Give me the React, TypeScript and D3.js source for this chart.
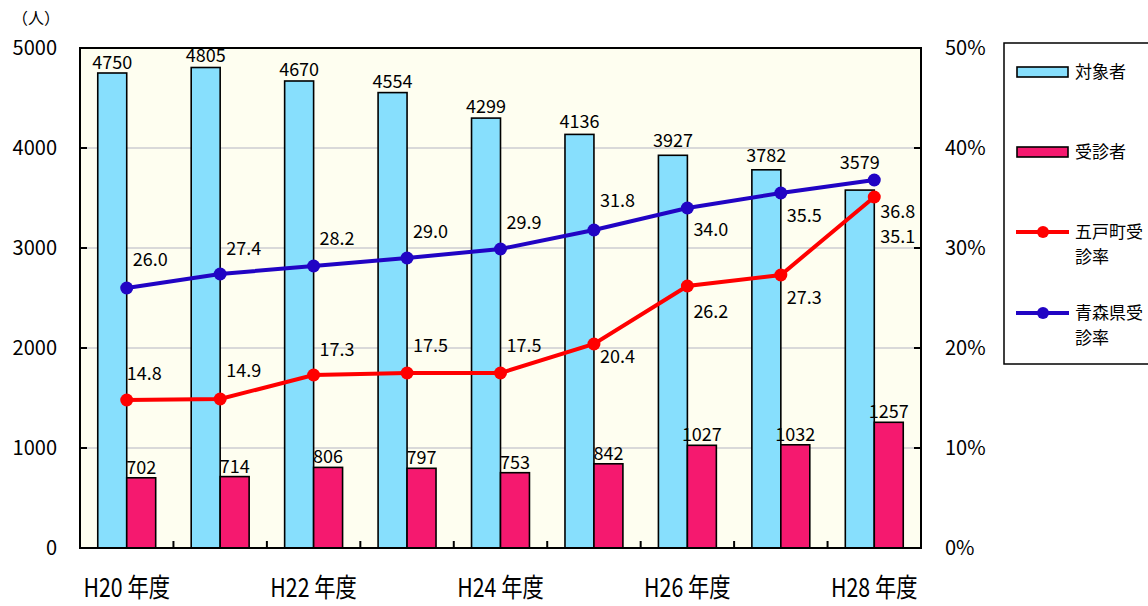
import React from 'react';
import * as d3 from 'd3';

// fiscal years (only every other one is labelled on the axis)
const years = ['H20', 'H21', 'H22', 'H23', 'H24', 'H25', 'H26', 'H27', 'H28'];
const shownYears = ['H20', 'H22', 'H24', 'H26', 'H28'];

// 対象者 / 受診者 (people)
const targets = [4750, 4805, 4670, 4554, 4299, 4136, 3927, 3782, 3579];
const examinees = [702, 714, 806, 797, 753, 842, 1027, 1032, 1257];

// 受診率 (%)
const gonoheRate = [14.8, 14.9, 17.3, 17.5, 17.5, 20.4, 26.2, 27.3, 35.1];
const aomoriRate = [26.0, 27.4, 28.2, 29.0, 29.9, 31.8, 34.0, 35.5, 36.8];

const leftTicks = [0, 1000, 2000, 3000, 4000, 5000];
const rightTicks = [0, 10, 20, 30, 40, 50];

// label offsets (label centre relative to the point / bar top)
const gonoheLabelDy = [-26, -28, -25, -27, -27, 13, 26, 23, 40];
const aomoriLabelDy = [-28, -25, -27, -26, -26, -29, 22, 23, 32];
const targetLabelLift = [4, 6, 5, 5, 5, 6, 8, 8, 21];

const W = 1148;
const H = 606;
const margin = { left: 80, right: 227, top: 48, bottom: 58 };
const innerW = W - margin.left - margin.right;
const innerH = H - margin.top - margin.bottom;

const FONT = '"Noto Sans CJK JP", "Noto Sans", sans-serif';
const CYAN = '#87dffd';
const PINK = '#f5196f';
const RED = '#ff0000';
const BLUE = '#2104c4';

export default function App() {
  const x = d3.scaleBand<string>().domain(years).range([0, innerW]);
  const bw = x.bandwidth() * 0.31;
  const groupOff = (x.bandwidth() - bw * 2) / 2;
  const y = d3.scaleLinear().domain([0, 5000]).range([innerH, 0]);
  const yr = d3.scaleLinear().domain([0, 50]).range([innerH, 0]);
  const cx = (yr_: string) => (x(yr_) as number) + x.bandwidth() / 2;

  const lineGen = d3
    .line<number>()
    .x((_, i) => cx(years[i]))
    .y(d => yr(d));

  const series = [
    { vals: gonoheRate, color: RED, dy: gonoheLabelDy },
    { vals: aomoriRate, color: BLUE, dy: aomoriLabelDy }
  ];

  return (
    <svg
      width={W}
      height={H}
      style={{ position: 'absolute', left: 0, top: 0, background: '#fff' }}
      fontFamily={FONT}
    >
      <text x={12} y={24} fontSize={16} fill="#000">（人）</text>
      <g transform={`translate(${margin.left},${margin.top})`}>
        <rect x={0} y={0} width={innerW} height={innerH} fill="#fefef0" />
        {leftTicks.slice(1, -1).map(t => (
          <line key={t} x1={0} x2={innerW} y1={y(t)} y2={y(t)} stroke="#d9d9d9" strokeWidth={2} />
        ))}

        {/* bars */}
        {years.map((yr_, i) => {
          const x0 = (x(yr_) as number) + groupOff;
          return (
            <g key={yr_}>
              <rect x={x0} y={y(targets[i])} width={bw} height={innerH - y(targets[i])}
                fill={CYAN} stroke="#000" strokeWidth={1.6} />
              <rect x={x0 + bw} y={y(examinees[i])} width={bw} height={innerH - y(examinees[i])}
                fill={PINK} stroke="#000" strokeWidth={1.6} />
              <text x={x0 + bw / 2} y={y(targets[i]) - targetLabelLift[i]} fontSize={18} textAnchor="middle">
                {targets[i]}
              </text>
              <text x={x0 + bw * 1.5} y={y(examinees[i]) - 4} fontSize={18} textAnchor="middle">
                {examinees[i]}
              </text>
            </g>
          );
        })}

        {/* rate lines */}
        {series.map(s => (
          <g key={s.color}>
            <path d={lineGen(s.vals) || ''} fill="none" stroke={s.color} strokeWidth={4} />
            {s.vals.map((v, i) => (
              <circle key={i} cx={cx(years[i])} cy={yr(v)} r={6.5} fill={s.color} />
            ))}
            {s.vals.map((v, i) => (
              <text key={'t' + i} x={cx(years[i]) + (i === 0 && s.color === RED ? 0 : 6)}
                y={yr(v) + s.dy[i] + 6} fontSize={18}>
                {v.toFixed(1)}
              </text>
            ))}
          </g>
        ))}

        {/* frame */}
        <rect x={0} y={0} width={innerW} height={innerH} fill="none" stroke="#000" strokeWidth={2} />
        {years.slice(1).map(yr_ => (
          <line key={yr_} x1={x(yr_)} x2={x(yr_)} y1={innerH} y2={innerH - 7} stroke="#000" strokeWidth={2} />
        ))}
        {leftTicks.map(t => (
          <g key={t}>
            <line x1={0} x2={7} y1={y(t)} y2={y(t)} stroke="#000" strokeWidth={2} />
            <text x={-23} y={y(t) + 7} fontSize={20} textAnchor="end">{t}</text>
          </g>
        ))}
        {rightTicks.map(t => (
          <g key={t}>
            <line x1={innerW} x2={innerW - 7} y1={yr(t)} y2={yr(t)} stroke="#000" strokeWidth={2} />
            <text x={innerW + 24} y={yr(t) + 7} fontSize={20}>{t}%</text>
          </g>
        ))}
        {shownYears.map(yr_ => (
          <text key={yr_} transform={`translate(${cx(yr_)},${innerH + 49}) scale(0.82,1)`}
            fontSize={26} textAnchor="middle">
            {yr_} 年度
          </text>
        ))}
      </g>

      {/* legend */}
      <g fontSize={17}>
        <rect x={1004} y={43} width={170} height={321} fill="#fff" stroke="#000" strokeWidth={1.5} />
        <rect x={1017} y={67} width={51} height={10} fill={CYAN} stroke="#000" strokeWidth={1.6} />
        <text x={1075} y={78}>対象者</text>
        <rect x={1017} y={147} width={51} height={10} fill={PINK} stroke="#000" strokeWidth={1.6} />
        <text x={1075} y={158}>受診者</text>
        <line x1={1016} x2={1069} y1={232} y2={232} stroke={RED} strokeWidth={4} />
        <circle cx={1043} cy={232} r={6} fill={RED} />
        <text x={1075} y={238}>五戸町受</text>
        <text x={1075} y={263}>診率</text>
        <line x1={1016} x2={1069} y1={313} y2={313} stroke={BLUE} strokeWidth={4} />
        <circle cx={1043} cy={313} r={6} fill={BLUE} />
        <text x={1075} y={319}>青森県受</text>
        <text x={1075} y={344}>診率</text>
      </g>
    </svg>
  );
}
